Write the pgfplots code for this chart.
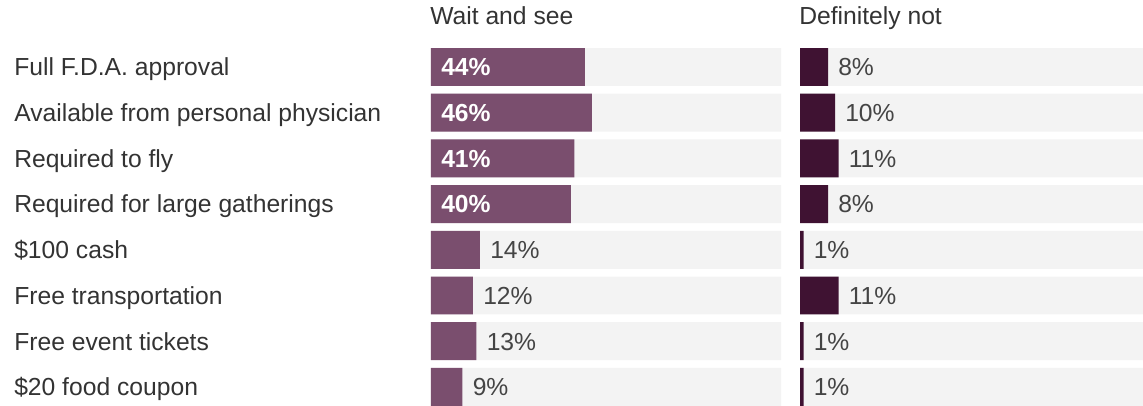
\documentclass[border=0pt]{standalone}
\usepackage{fontspec}
\setmainfont{Liberation Sans}
\usepackage{pgfplots}
\pgfplotsset{compat=1.18}
\definecolor{waitc}{HTML}{7A4E6E}
\definecolor{defc}{HTML}{3F1232}
\definecolor{bgc}{HTML}{F3F3F3}
\definecolor{txt}{HTML}{333333}
\definecolor{valc}{HTML}{444444}
\newcommand{\chartfont}{\fontsize{18.5}{22}\selectfont}
\begin{document}
\begin{tikzpicture}
\useasboundingbox (0,0) rectangle (857.25pt,-303.75pt);
\clip (0,0) rectangle (857.25pt,-303.75pt);
\pgfplotsset{
 panel/.style={
   scale only axis, width=262.5pt, height=274.2pt,
   xmin=0, xmax=100, ymin=-0.5, ymax=7.5, y dir=reverse,
   axis line style={draw=none}, xtick=\empty, major tick length=0pt,
   ytick style={draw=none},
   clip=false,
   /pgf/number format/assume math mode=true,
   title style={at={(0,1)}, anchor=base west, yshift=9.1pt, xshift=-0.75pt, inner sep=0pt, font=\chartfont, text=txt},
   bar width=0.83,
 },
 outlab/.style={nodes near coords={\pgfmathprintnumber{\pgfplotspointmeta}\%}, point meta=x,
   every node near coord/.append style={anchor=west, inner sep=0pt, xshift=7.5pt, text=valc, font=\chartfont, text height=13.25pt, text depth=0pt}},
}
\begin{axis}[panel, at={(323.25pt,-33.11pt)}, anchor=north west, title={Wait and see},
  ytick={0,...,7},
  yticklabels={Full F.D.A. approval, Available from personal physician, Required to fly, Required for large gatherings, \$100 cash, Free transportation, Free event tickets, \$20 food coupon},
  yticklabel style={anchor=west, inner sep=0pt, xshift=-312.75pt, font=\chartfont, text=txt, text height=13.25pt, text depth=0pt}]
\addplot[xbar, bar shift=0pt, fill=bgc, draw=none] coordinates {(100,0) (100,1) (100,2) (100,3) (100,4) (100,5) (100,6) (100,7)};
\addplot[xbar, bar shift=0pt, fill=waitc, draw=none] coordinates {(44,0) (46,1) (41,2) (40,3)};
\addplot[xbar, bar shift=0pt, fill=waitc, draw=none, outlab] coordinates {(14,4) (12,5) (13,6) (9,7)};
\addplot[draw=none, mark=none, point meta=explicit,
  nodes near coords={\pgfmathprintnumber{\pgfplotspointmeta}\%},
  every node near coord/.append style={anchor=west, inner sep=0pt, xshift=7.5pt, text=white, font=\chartfont\bfseries, text height=13.25pt, text depth=0pt}]
  coordinates {(0,0) [44] (0,1) [46] (0,2) [41] (0,3) [40]};
\end{axis}
\begin{axis}[panel, at={(600pt,-33.11pt)}, anchor=north west, title={Definitely not}, ytick=\empty]
\addplot[xbar, bar shift=0pt, fill=bgc, draw=none] coordinates {(100,0) (100,1) (100,2) (100,3) (100,4) (100,5) (100,6) (100,7)};
\addplot[xbar, bar shift=0pt, fill=defc, draw=none, outlab] coordinates {(8,0) (10,1) (11,2) (8,3) (1,4) (11,5) (1,6) (1,7)};
\end{axis}
\end{tikzpicture}
\end{document}
